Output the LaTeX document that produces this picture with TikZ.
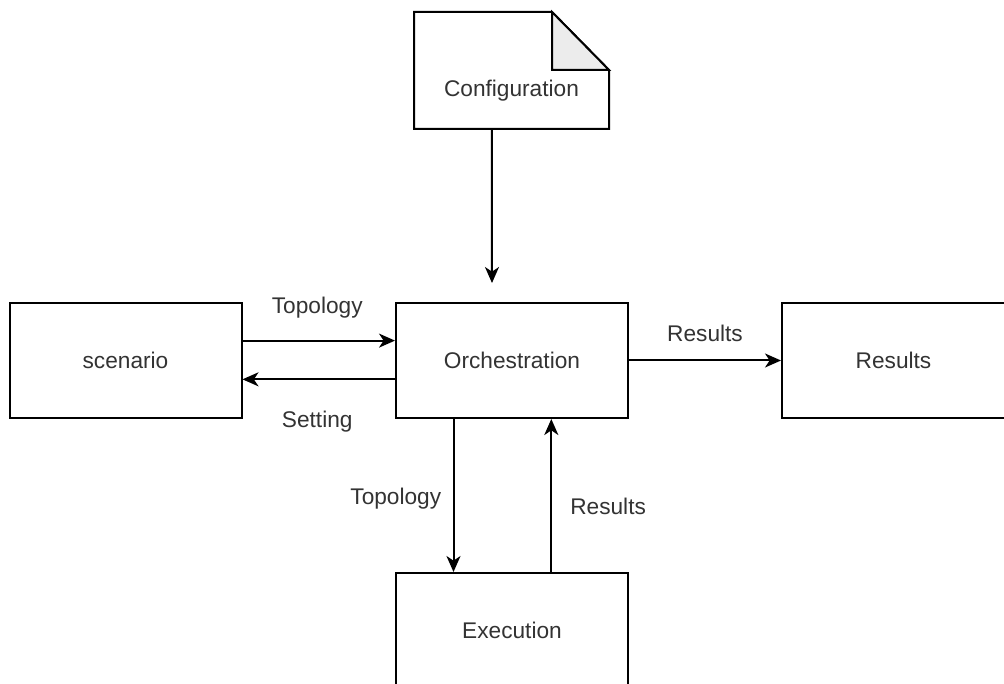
\documentclass[tikz,border=0pt]{standalone}
\usepackage{fontspec}
\setmainfont{Liberation Sans}
\usetikzlibrary{arrows.meta,calc}
\definecolor{txt}{HTML}{333333}
\definecolor{fold}{HTML}{ECECEC}
\begin{document}
\begin{tikzpicture}[x=0.75pt,y=-0.75pt,
  line width=1.5pt,
  every node/.style={font=\fontsize{17}{20}\selectfont, text=txt},
  box/.style={draw=black, minimum width=174pt, minimum height=86.25pt, inner sep=0pt},
  flow/.style={-{Stealth[length=12pt,width=10.5pt,inset=3.5pt]}},
  lbl/.style={inner sep=1pt}]
\useasboundingbox (0,0) rectangle (1004,684);
\clip (0,0) rectangle (1004,684);
\fill[white] (0,0) rectangle (1004,684);

% document shape for the configuration file
\node[minimum width=144.75pt, minimum height=86.25pt, inner sep=0pt] (cfg) at (511.5,70.5) {};
\draw[fill=white] (cfg.north west) -- ([xshift=-42.75pt]cfg.north east)
  -- ([yshift=-43.5pt]cfg.north east) -- (cfg.south east) -- (cfg.south west) -- cycle;
\draw[fill=fold] ([xshift=-42.75pt]cfg.north east) -- ([yshift=-43.5pt]cfg.north east)
  -- ([xshift=-42.75pt,yshift=-43.5pt]cfg.north east) -- cycle;
\node (cfgtext) at ([yshift=-15pt]cfg.center) {Configuration};

% process boxes
\node[box] (scen) at (125.5,360.5) {scenario};
\node[box] (orch) at (512,360.5) {Orchestration};
\node[box, minimum width=167.25pt] (res) at (893.5,360.5) {Results};
\node[box] (exec) at (512,630.5) {Execution};

% connectors
\coordinate (cfgend) at (492,283);
\draw[flow] ($(cfg.south west)!0.399!(cfg.south east)$) -- (cfgend);

\draw[flow] ($(scen.north east)!0.33!(scen.south east)$) -- ($(orch.north west)!0.33!(orch.south west)$)
  node[lbl, pos=0.49, above=15pt] {Topology};
\draw[flow] ($(orch.north west)!0.661!(orch.south west)$) -- ($(scen.north east)!0.661!(scen.south east)$)
  node[lbl, pos=0.51, below=22pt] {Setting};
\draw[flow] (orch.east) -- (res.west)
  node[lbl, midway, above=12pt] {Results};
\draw[flow] ($(orch.south west)!0.25!(orch.south east)$) -- ($(exec.north west)!0.25!(exec.north east)$)
  node[lbl, pos=0.52, left=7.5pt] {Topology};
\draw[flow] ($(exec.north west)!0.668!(exec.north east)$) -- ($(orch.south west)!0.668!(orch.south east)$)
  node[lbl, pos=0.43, right=12.5pt] {Results};
\end{tikzpicture}
\end{document}
